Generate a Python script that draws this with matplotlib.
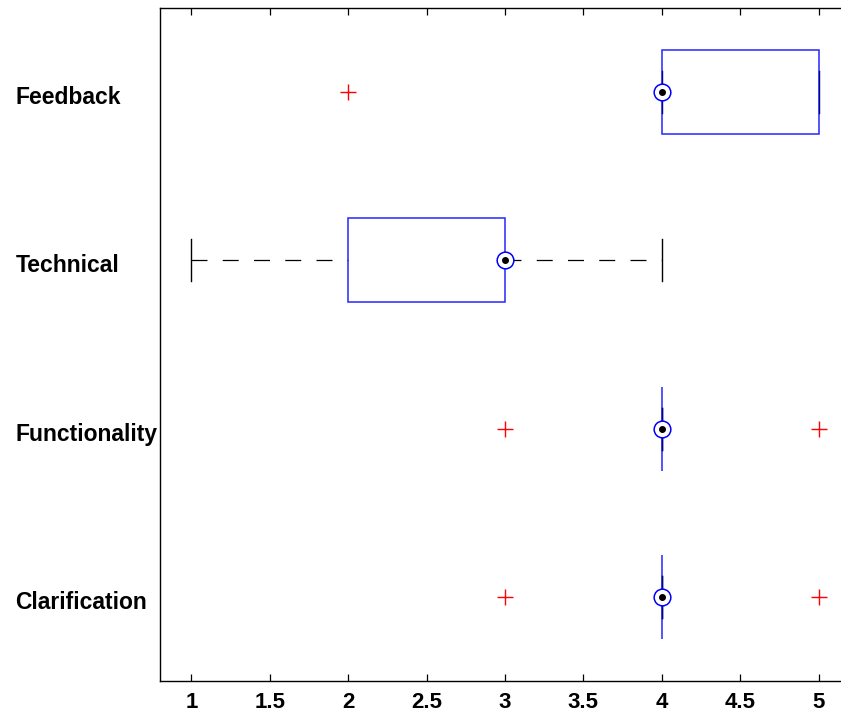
import matplotlib.pyplot as plt
from matplotlib.patches import Rectangle
from matplotlib.transforms import ScaledTranslation

plt.rcParams['font.family'] = ['Liberation Sans', 'DejaVu Sans']
plt.rcParams['lines.scale_dashes'] = False

# box statistics, bottom to top
categories = ['Clarification', 'Functionality', 'Technical', 'Feedback']
q1 = [4, 4, 2, 4]
median = [4, 4, 3, 4]
q3 = [4, 4, 3, 5]
whisker_lo = [4, 4, 1, 4]
whisker_hi = [4, 4, 4, 5]
outliers = [[3, 5], [3, 5], [], [2]]
xticks = [1, 1.5, 2, 2.5, 3, 3.5, 4, 4.5, 5]
xtick_labels = ['1', '1.5', '2', '2.5', '3', '3.5', '4', '4.5', '5']

fig = plt.figure(figsize=(8.41, 7.17), dpi=100)
ax = fig.add_axes([160 / 841, 36 / 717, 690 / 841, 673 / 717])

box_h = 0.5
cap_h = 0.25
blue = '#0000ff'

for i, name in enumerate(categories):
    y = i + 1
    # whiskers
    if whisker_lo[i] < q1[i]:
        ax.plot([whisker_lo[i], q1[i]], [y, y], color='black', lw=0.9,
                dashes=(11.5, 11), zorder=2)
    if whisker_hi[i] > q3[i]:
        ax.plot([q3[i], whisker_hi[i]], [y, y], color='black', lw=0.9,
                dashes=(11.5, 11), zorder=2)
    # caps
    for w in (whisker_lo[i], whisker_hi[i]):
        ax.plot([w, w], [y - cap_h / 2, y + cap_h / 2], color='black', lw=1.0, zorder=2)
    # box
    ax.add_patch(Rectangle((q1[i], y - box_h / 2), q3[i] - q1[i], box_h,
                           fill=False, edgecolor=blue, lw=1.1, alpha=0.85, zorder=3))
    # median target
    ax.plot([median[i]], [y], marker='o', ms=12, mfc='white', mec=blue,
            mew=1.1, zorder=4)
    ax.plot([median[i]], [y], marker='o', ms=4, mfc='black', mec='black',
            zorder=5)
    # outliers
    if outliers[i]:
        ax.plot(outliers[i], [y] * len(outliers[i]), ls='none', marker='+',
                ms=11, mew=1.0, color='red', zorder=4)

ax.set_xlim(0.8, 5.2)
ax.set_ylim(0.5, 4.5)
ax.set_xticks(xticks)
ax.set_xticklabels(xtick_labels, fontsize=16, fontweight='bold')
ax.set_yticks(range(1, len(categories) + 1))
ax.set_yticklabels(categories, fontsize=16.5, fontweight='bold', ha='left')
ax.tick_params(axis='y', length=0, pad=104)
ax.tick_params(axis='x', direction='in', length=5, width=0.9, top=True, pad=8)
for s in ax.spines.values():
    s.set_linewidth(1.0)

# labels sit a little below the box centres in the original
shift = ScaledTranslation(0, -3 / 100, fig.dpi_scale_trans)
for lbl in ax.get_yticklabels():
    lbl.set_transform(lbl.get_transform() + shift)

fig.savefig('out.png', dpi=100)
